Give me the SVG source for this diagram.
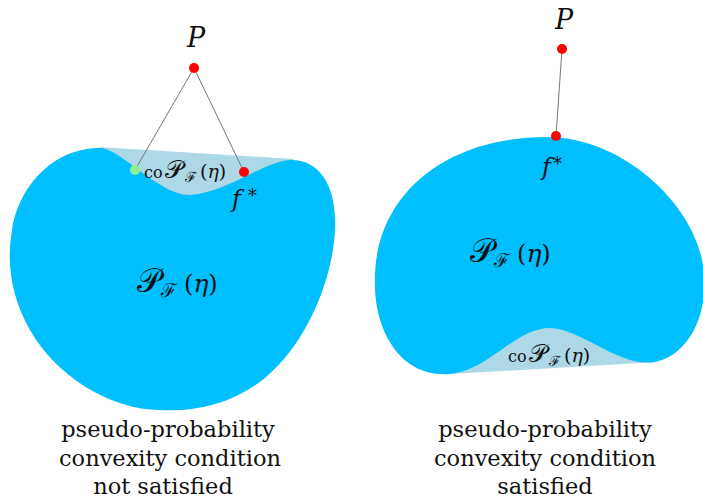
<svg xmlns="http://www.w3.org/2000/svg" width="703" height="502" viewBox="0 0 703 502">
<style>
.set{fill:#00BFFF}
.hull{fill:#ADD8E6}
.t{font-family:'DejaVu Serif','Liberation Serif',serif;fill:#111}
.it{font-style:italic}
.cal{font-style:normal}
.cap{font-family:'DejaVu Serif','Liberation Serif',serif;font-size:22.5px;fill:#111;text-anchor:middle}
.dotr{fill:#FF0000}
.dotg{fill:#90EE90}
.ln{stroke:#777;stroke-width:1;fill:none}
</style>
<g id="left-hull">
<path class="hull" d="M 99,147 L 294,159 L 255,200 L 135,200 Z"/>
</g>
<g id="left-set">
<path class="set" d="M 100,148 C 120,148 160,196 190,195 C 228,193 268,158 293,160 C 322,161 337,190 335,230 C 333,275 310,340 265,378 C 235,402 200,412 160,410 C 110,410 55,375 30,330 C 12,298 6,265 12,230 C 18,190 50,148 100,148 Z"/>
</g>
<g id="right-hull">
<path class="hull" d="M 450,374 L 657,362 L 605,318 L 495,318 Z"/>
</g>
<g id="right-set">
<path class="set" d="M 547,137 C 620,137 690,200 702,260 C 712,310 690,355 655,362 C 620,368 580,328 550,328 C 515,328 490,370 450,374 C 400,378 375,330 375,285 C 372,200 440,137 547,137 Z"/>
</g>
<g id="connectors">
<line class="ln" x1="194" y1="68" x2="135" y2="170"/>
<line class="ln" x1="194" y1="68" x2="244" y2="172"/>
<line class="ln" x1="562" y1="49" x2="556" y2="136"/>
</g>
<g id="left-P">
<circle class="dotr" cx="194" cy="68" r="5"/>
<text class="t it" x="187" y="47" font-size="27">P</text>
</g>
<g id="left-green">
<circle class="dotg" cx="135" cy="170" r="5"/>
</g>
<g id="left-fstar">
<circle class="dotr" cx="244" cy="172" r="5"/>
<text class="t it" x="232" y="207" font-size="24">f<tspan class="cal" x="248" y="202" font-size="18">*</tspan></text>
</g>
<g id="left-co">
<text class="t" x="144" y="178" font-size="16">co<tspan class="cal" x="165" font-size="25">𝒫</tspan><tspan class="cal" x="185" y="182" font-size="14">ℱ</tspan><tspan x="200" y="178" font-size="19">(</tspan><tspan class="it" font-size="19">η</tspan><tspan font-size="19">)</tspan></text>
</g>
<g id="left-label">
<text class="t" x="137" y="292" font-size="24"><tspan class="cal" font-size="33">𝒫</tspan><tspan class="cal" x="161" y="297" font-size="19">ℱ</tspan><tspan x="184" y="292">(</tspan><tspan class="it" font-size="25">η</tspan><tspan>)</tspan></text>
</g>
<g id="right-P">
<circle class="dotr" cx="562" cy="49" r="5"/>
<text class="t it" x="555" y="29" font-size="27">P</text>
</g>
<g id="right-fstar">
<circle class="dotr" cx="556" cy="136" r="5"/>
<text class="t it" x="542" y="175" font-size="24">f<tspan class="cal" x="553" y="170" font-size="18">*</tspan></text>
</g>
<g id="right-label">
<text class="t" x="470" y="262" font-size="24"><tspan class="cal" font-size="33">𝒫</tspan><tspan class="cal" x="494" y="267" font-size="19">ℱ</tspan><tspan x="517" y="262">(</tspan><tspan class="it" font-size="25">η</tspan><tspan>)</tspan></text>
</g>
<g id="right-co">
<text class="t" x="508" y="362" font-size="16">co<tspan class="cal" x="529" font-size="25">𝒫</tspan><tspan class="cal" x="549" y="366" font-size="14">ℱ</tspan><tspan x="564" y="362" font-size="19">(</tspan><tspan class="it" font-size="19">η</tspan><tspan font-size="19">)</tspan></text>
</g>
<g id="left-caption">
<text class="cap" x="168" y="437">pseudo-probability</text>
<text class="cap" x="170" y="466">convexity condition</text>
<text class="cap" x="163" y="494">not satisfied</text>
</g>
<g id="right-caption">
<text class="cap" x="545" y="437">pseudo-probability</text>
<text class="cap" x="545" y="466">convexity condition</text>
<text class="cap" x="545" y="494">satisfied</text>
</g>
</svg>
